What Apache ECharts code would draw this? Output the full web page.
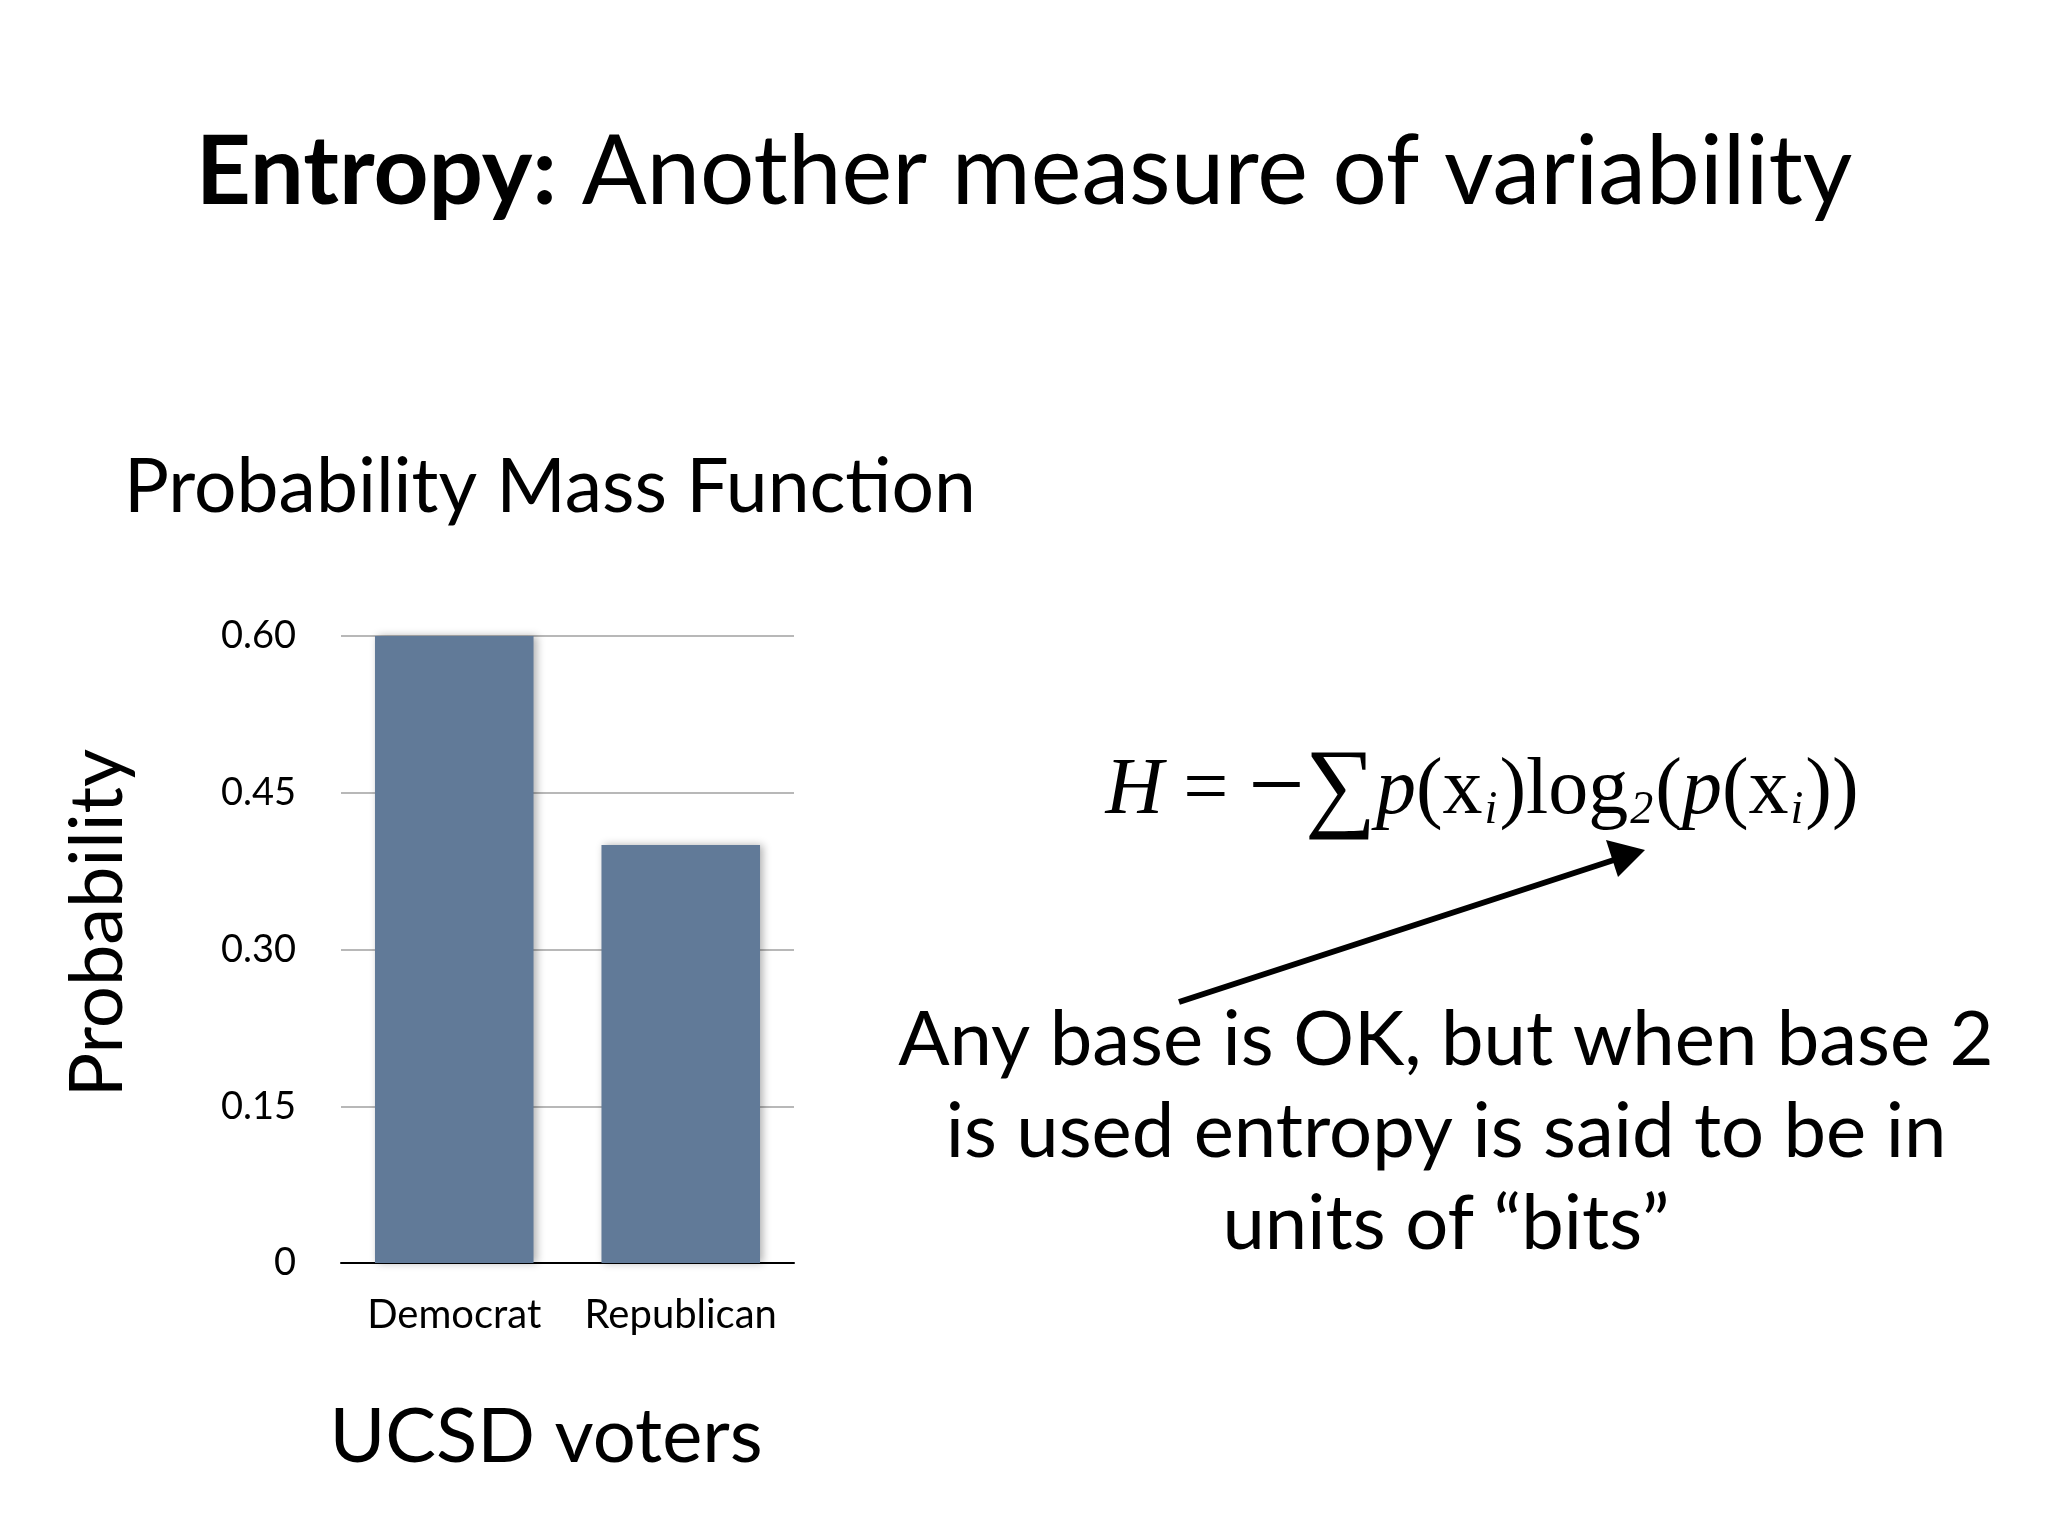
<!DOCTYPE html>
<html>
<head>
<meta charset="utf-8">
<script src="https://cdn.jsdelivr.net/npm/echarts@6/dist/echarts.min.js"></script>
<style>html,body{margin:0;background:#fff}#c{width:2048px;height:1536px}</style>
</head>
<body>
<div id="c"></div>
<script>
var categories = ['Democrat', 'Republican'];
var probabilities = [0.60, 0.40];
var tickValues = [0, 0.15, 0.30, 0.45, 0.60];

var FONT = 'Lato';
var chart = echarts.init(document.getElementById('c'), null, {renderer: 'canvas'});

chart.setOption({
	backgroundColor: '#fff',
	animation: false,
	grid: {left: 341, top: 636, width: 453, height: 627},
	xAxis: {
		type: 'category',
		data: categories,
		axisLine: {lineStyle: {color: '#000', width: 2}},
		axisTick: {show: false},
		axisLabel: {color: '#000', fontFamily: FONT, fontSize: 40, margin: 32, interval: 0}
	},
	yAxis: {
		type: 'value',
		min: 0, max: 0.6, interval: 0.15,
		axisLine: {show: false},
		axisTick: {show: false},
		splitLine: {lineStyle: {color: '#b8b8b8', width: 2}},
		axisLabel: {
			color: '#000', fontFamily: FONT, fontSize: 38, margin: 45,
			formatter: function (v) { return v === 0 ? '0' : v.toFixed(2); }
		}
	},
	series: [{
		type: 'bar',
		data: probabilities,
		barWidth: '70%',
		itemStyle: {
			color: '#617a98',
			shadowColor: 'rgba(0,0,0,0.3)', shadowBlur: 8, shadowOffsetX: 3, shadowOffsetY: 0
		}
	}],
	graphic: [
		{type: 'text', left: 'center', top: 125, style: {
			text: '{b|Entropy:} Another measure of variability',
			font: '96px ' + FONT, fill: '#000',
			rich: {b: {fontWeight: 'bold', fontSize: 96, fontFamily: FONT}}
		}},
		{type: 'text', left: 124, top: 450, style: {text: 'Probability Mass Function', font: '75px ' + FONT, fill: '#000'}},
		{type: 'text', x: 98, y: 923, rotation: Math.PI / 2, style: {
			text: 'Probability', font: '74px ' + FONT, fill: '#000', align: 'center', verticalAlign: 'middle'
		}},
		{type: 'text', x: 546, y: 1437, style: {text: 'UCSD voters', font: '76px ' + FONT, fill: '#000', align: 'center', verticalAlign: 'middle'}},
		{type: 'text', x: 1482, y: 792, style: {
			text: '{i|H} = {s|−∑}{i|p}(x{sub|i}){r|log}{sub|2}({i|p}(x{sub|i}))',
			font: '80px "Liberation Serif"', fill: '#000', align: 'center', verticalAlign: 'middle',
			rich: {
				i: {fontStyle: 'italic', fontSize: 80, fontFamily: 'Liberation Serif'},
				s: {fontSize: 100, fontFamily: 'Liberation Serif'},
				r: {fontSize: 80, fontFamily: 'Liberation Serif'},
				sub: {fontSize: 46, fontStyle: 'italic', fontFamily: 'Liberation Serif', padding: [38, 2, 0, 2]}
			}
		}},
		{type: 'line', shape: {x1: 1179, y1: 1002, x2: 1620, y2: 858}, style: {stroke: '#000', lineWidth: 6}},
		{type: 'polygon', shape: {points: [[1645, 850], [1606, 840], [1618, 877]]}, style: {fill: '#000'}},
		{type: 'text', x: 1446, y: 1132, style: {
			text: 'Any base is OK, but when base 2\nis used entropy is said to be in\nunits of “bits”',
			font: '76px ' + FONT, fill: '#000', align: 'center', verticalAlign: 'middle', lineHeight: 92
		}}
	]
});
</script>
</body>
</html>
